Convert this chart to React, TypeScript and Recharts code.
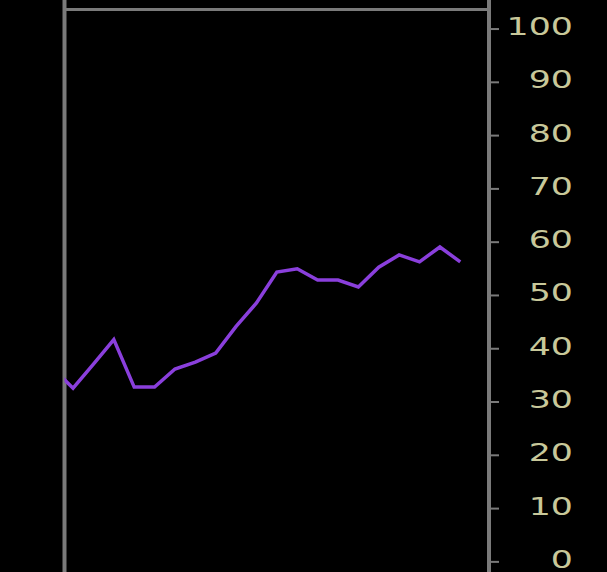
import React from 'react';
import { LineChart, Line, XAxis, YAxis, ReferenceLine } from 'recharts';

// sample index along the x axis (first one sits just left of the plot and is clipped)
const POINTS = [0, 1, 2, 3, 4, 5, 6, 7, 8, 9, 10, 11, 12, 13, 14, 15, 16, 17, 18, 19, 20];
const VALUES = [
  36.4, 32.6, 37.1, 41.7, 32.8, 32.8, 36.2, 37.5, 39.2, 44.2, 48.6,
  54.4, 55.0, 52.9, 52.9, 51.6, 55.3, 57.6, 56.3, 59.1, 56.3,
];
const Y_TICKS = [0, 10, 20, 30, 40, 50, 60, 70, 80, 90, 100];

const X_DOMAIN: [number, number] = [0.58, 21.41];
const Y_DOMAIN: [number, number] = [-1.9, 105.45];
const TOP_EDGE = 103.65;

const AXIS = '#7a7a7a';
const LABEL = '#c8c89a';
const LINE = '#8a3fdc';

const data = POINTS.map((i, k) => ({ i, v: VALUES[k] }));

const RightTick = (props: any) => {
  const { x, y, payload } = props;
  // labels are right aligned a fixed distance from the axis line
  const ax = x - 10 + 84;
  return (
    <text
      transform={`translate(${ax},${y + 6}) scale(1.45,1)`}
      textAnchor="end"
      fill={LABEL}
      fontFamily="DejaVu Sans"
      fontSize={24}
    >
      {payload.value}
    </text>
  );
};

export default function App() {
  return (
    <div style={{ position: 'fixed', left: 0, top: 0, width: 607, height: 572, background: '#000' }}>
      <LineChart width={607} height={572} data={data} margin={{ top: 0, right: 0, bottom: 0, left: 64.5 }}>
        <XAxis xAxisId="b" dataKey="i" type="number" domain={X_DOMAIN} allowDataOverflow hide />
        <YAxis
          yAxisId="r"
          orientation="right"
          type="number"
          domain={Y_DOMAIN}
          allowDataOverflow
          ticks={Y_TICKS}
          interval={0}
          width={118}
          tickSize={10}
          tickMargin={0}
          axisLine={{ stroke: AXIS, strokeWidth: 4 }}
          tickLine={{ stroke: AXIS, strokeWidth: 2 }}
          tick={<RightTick />}
        />
        <ReferenceLine xAxisId="b" yAxisId="r" x={X_DOMAIN[0]} stroke={AXIS} strokeWidth={4} ifOverflow="visible" />
        <ReferenceLine xAxisId="b" yAxisId="r" y={TOP_EDGE} stroke={AXIS} strokeWidth={3} ifOverflow="visible" />
        <Line
          xAxisId="b"
          yAxisId="r"
          dataKey="v"
          type="linear"
          stroke={LINE}
          strokeWidth={3.5}
          dot={false}
          isAnimationActive={false}
        />
      </LineChart>
    </div>
  );
}
